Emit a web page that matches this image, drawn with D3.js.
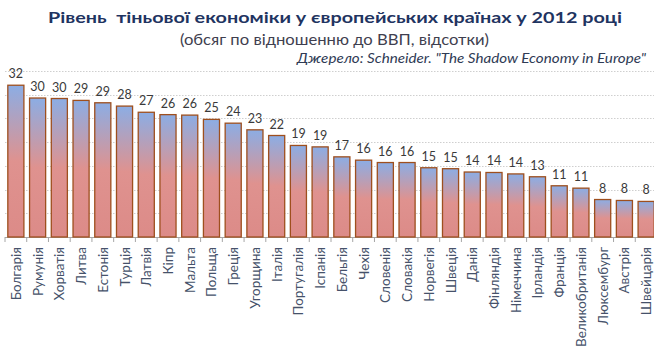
<!DOCTYPE html>
<html>
<head>
<meta charset="utf-8">
<script src="https://cdn.jsdelivr.net/npm/d3@7/dist/d3.min.js"></script>
<style>
  html, body { margin: 0; padding: 0; background: #ffffff; }
  svg { display: block; }
  text { font-family: Lato, "Open Sans", sans-serif; }
</style>
</head>
<body>
<svg id="chart" width="654" height="353"></svg>
<script>
const categories = ["Болгарія","Румунія","Хорватія","Литва","Естонія","Турція","Латвія","Кіпр","Мальта","Польща","Греція","Угорщина","Італія","Португалія","Іспанія","Бельгія","Чехія","Словенія","Словакія","Норвегія","Швеція","Данія","Фінляндія","Німеччина","Ірландія","Франція","Великобританія","Люксембург","Австрія","Швейцарія"];
const values = [32.0,29.3,29.2,28.8,28.3,27.6,26.3,25.8,25.7,24.8,24.0,22.6,21.4,19.3,19.0,16.9,16.2,15.7,15.7,14.6,14.4,13.7,13.6,13.3,12.7,10.8,10.3,7.9,7.7,7.5];
const valueLabels = ["32","30","30","29","29","28","27","26","26","25","24","23","22","19","19","17","16","16","16","15","15","14","14","14","13","11","11","8","8","8"];
const yTicks = [5,10,15,20,25,30,35];
const titleText = "Рівень  тіньової економіки у європейських країнах у 2012 році";
const subtitleText = "(обсяг по відношенню до ВВП, відсотки)";
const sourceText = "Джерело: Schneider. \"The Shadow Economy in Europe\"";

const svg = d3.select("#chart");
const x = d3.scaleBand().domain(categories).range([5, 657]).paddingInner(0.26).paddingOuter(0.13);
const y = d3.scaleLinear().domain([0, 35]).range([237, 71]);

// gradient
const defs = svg.append("defs");
const grad = defs.append("linearGradient").attr("id", "barGrad")
  .attr("x1", 0).attr("y1", 0).attr("x2", 0).attr("y2", 1);
grad.append("stop").attr("offset", "0%").attr("stop-color", "#8cade4");
grad.append("stop").attr("offset", "50%").attr("stop-color", "#df928f");
grad.append("stop").attr("offset", "100%").attr("stop-color", "#dc8b88");

// gridlines
svg.append("g").selectAll("line").data(yTicks).join("line")
  .attr("x1", 5).attr("x2", 654)
  .attr("y1", d => Math.round(y(d)) + 0.5).attr("y2", d => Math.round(y(d)) + 0.5)
  .attr("stroke", "#cfcfcf").attr("stroke-width", 1).attr("stroke-dasharray", "1.5,1.5");

// x axis baseline and ticks (between categories)
const step = x.step();
const x0 = x.range()[0];
const tickPos = d3.range(categories.length + 1).map(i => x0 + i * step);
svg.append("line").attr("x1", 5).attr("x2", 657).attr("y1", 237.5).attr("y2", 237.5)
  .attr("stroke", "#a6a6a6").attr("stroke-width", 1);
svg.append("g").selectAll("line").data(tickPos).join("line")
  .attr("x1", d => d).attr("x2", d => d).attr("y1", 237).attr("y2", 242)
  .attr("stroke", "#a6a6a6").attr("stroke-width", 1);

// bars
svg.append("g").selectAll("rect").data(categories).join("rect")
  .attr("x", (d) => x(d))
  .attr("y", (d, i) => y(values[i]))
  .attr("width", x.bandwidth())
  .attr("height", (d, i) => y(0) - y(values[i]))
  .attr("fill", "url(#barGrad)")
  .attr("stroke", "#9e4f1e").attr("stroke-width", 1.3);

// value labels
svg.append("g").selectAll("text").data(categories).join("text")
  .attr("x", d => x(d) + x.bandwidth() / 2)
  .attr("y", (d, i) => y(values[i]) - 7)
  .attr("text-anchor", "middle")
  .attr("font-size", 12.5)
  .attr("fill", "#3a3a3a")
  .text((d, i) => valueLabels[i]);

// category labels
svg.append("g").selectAll("text").data(categories).join("text")
  .attr("transform", d => `translate(${x(d) + x.bandwidth() / 2 + 5},247) rotate(-90)`)
  .attr("text-anchor", "end")
  .attr("font-size", 13.5)
  .attr("fill", "#46526a")
  .text(d => d);

// titles
svg.append("text").attr("x", 48).attr("y", 23)
  .attr("font-size", 16).attr("font-weight", "bold").attr("fill", "#1f3461")
  .attr("textLength", 574).attr("lengthAdjust", "spacingAndGlyphs")
  .style("white-space", "pre")
  .text(titleText);
svg.append("text").attr("x", 180).attr("y", 45)
  .attr("font-size", 14.5).attr("fill", "#3f3f4f")
  .attr("textLength", 309).attr("lengthAdjust", "spacingAndGlyphs")
  .text(subtitleText);
svg.append("text").attr("x", 297).attr("y", 63)
  .attr("font-size", 14).attr("font-style", "italic").attr("fill", "#2f3b55")
  .attr("textLength", 349).attr("lengthAdjust", "spacingAndGlyphs")
  .text(sourceText);
</script>
</body>
</html>
